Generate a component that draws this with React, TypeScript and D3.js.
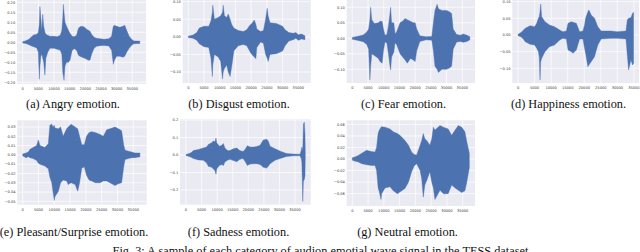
import React from 'react';
import * as d3 from 'd3';

// ---------- shared ticks & text ----------
const xTicks = [0, 5000, 10000, 15000, 20000, 25000, 30000, 35000];
const captions = [
  '(a) Angry emotion.',
  '(b) Disgust emotion.',
  '(c) Fear emotion.',
  '(d) Happiness emotion.',
  '(e) Pleasant/Surprise emotion.',
  '(f) Sadness emotion.',
  '(g) Neutral emotion.',
];
const figCaption = 'Fig. 3: A sample of each category of audion emotial wave signal in the TESS dataset.';

// ---------- (a) Angry ----------
const angryYTicks = [0.2, 0.15, 0.1, 0.05, 0, -0.05, -0.1, -0.15, -0.2];
const angryT = [0, 1000, 2000, 3000, 3500, 4500, 5000, 5300, 5500, 5800, 6100, 6400, 6700, 7100, 7400, 8000, 8700, 10000, 11000, 12000, 12500, 12800, 13000, 13200, 13500, 14000, 14600, 15100, 15800, 16500, 17200, 17800, 18300, 19000, 19800, 20400, 21000, 21500, 22000, 22800, 23600, 24700, 26000, 27500, 28400, 28700, 28950, 29300, 30000, 31000, 32000, 32600, 33200, 34000, 34800, 35500, 37400];
const angryHi = [0.003, 0.008, 0.015, 0.03, 0.037, 0.04, 0.05, 0.09, 0.178, 0.12, 0.06, 0.14, 0.08, 0.05, 0.04, 0.035, 0.03, 0.03, 0.028, 0.035, 0.06, 0.12, 0.19, 0.15, 0.1, 0.08, 0.06, 0.045, 0.03, 0.028, 0.035, 0.07, 0.078, 0.08, 0.075, 0.065, 0.06, 0.055, 0.04, 0.025, 0.02, 0.018, 0.015, 0.018, 0.03, 0.06, 0.08, 0.085, 0.08, 0.075, 0.08, 0.085, 0.06, 0.03, 0.015, 0.007, 0.006];
const angryLo = [-0.003, -0.006, -0.012, -0.02, -0.022, -0.028, -0.05, -0.185, -0.12, -0.07, -0.06, -0.08, -0.1, -0.164, -0.08, -0.05, -0.03, -0.03, -0.035, -0.04, -0.06, -0.15, -0.17, -0.19, -0.12, -0.1, -0.1, -0.09, -0.04, -0.032, -0.04, -0.065, -0.07, -0.075, -0.08, -0.085, -0.09, -0.088, -0.06, -0.03, -0.02, -0.017, -0.016, -0.018, -0.04, -0.08, -0.11, -0.09, -0.07, -0.07, -0.075, -0.07, -0.05, -0.03, -0.015, -0.007, -0.006];

// ---------- (b) Disgust ----------
const disgustYTicks = [0.1, 0.05, 0, -0.05, -0.1];
const disgustT = [0, 1500, 2700, 3500, 5000, 6500, 7200, 7650, 7800, 8300, 9500, 10300, 10900, 11100, 11500, 12200, 12700, 13300, 13800, 14500, 15900, 17500, 18600, 19500, 20200, 21000, 21500, 21800, 23000, 23900, 24600, 25100, 25400, 26000, 28000, 30000, 30800, 32000, 33400, 34200, 35000, 36000, 37100];
const disgustHi = [0.002, 0.005, 0.012, 0.025, 0.03, 0.03, 0.045, 0.07, 0.09, 0.05, 0.055, 0.06, 0.07, 0.09, 0.06, 0.055, 0.065, 0.05, 0.035, 0.025, 0.018, 0.015, 0.02, 0.032, 0.038, 0.048, 0.035, 0.022, 0.015, 0.018, 0.05, 0.081, 0.06, 0.04, 0.038, 0.03, 0.02, 0.012, 0.01, 0.012, 0.006, 0.008, 0.003];
const disgustLo = [-0.002, -0.004, -0.01, -0.02, -0.028, -0.03, -0.06, -0.113, -0.08, -0.05, -0.057, -0.07, -0.12, -0.1, -0.09, -0.08, -0.1, -0.113, -0.085, -0.04, -0.025, -0.022, -0.025, -0.04, -0.05, -0.057, -0.062, -0.03, -0.015, -0.018, -0.05, -0.06, -0.07, -0.05, -0.048, -0.04, -0.025, -0.012, -0.008, -0.004, -0.01, -0.006, -0.008];

// ---------- (c) Fear ----------
const fearYTicks = [0.1, 0.05, 0, -0.05, -0.1];
const fearT = [0, 1500, 3500, 4600, 5200, 5600, 5850, 6200, 7000, 8300, 8800, 9500, 9900, 10400, 11000, 11500, 12000, 12200, 12500, 13200, 13600, 14100, 15200, 16000, 16800, 17500, 18500, 19400, 20000, 20500, 21500, 23500, 25300, 25800, 26300, 27000, 27400, 28500, 30000, 31000, 31600, 32100, 33200, 34500, 35300, 36500, 37400];
const fearHi = [0.003, 0.006, 0.011, 0.02, 0.03, 0.06, 0.1, 0.06, 0.048, 0.05, 0.055, 0.054, 0.03, 0.01, 0.012, 0.04, 0.08, 0.1, 0.05, 0.05, 0.015, 0.02, 0.05, 0.055, 0.064, 0.06, 0.055, 0.05, 0.05, 0.03, 0.008, 0.005, 0.006, 0.05, 0.09, 0.11, 0.095, 0.09, 0.09, 0.085, 0.08, 0.03, 0.012, 0.01, 0.014, 0.01, 0.005];
const fearLo = [-0.003, -0.006, -0.011, -0.02, -0.035, -0.134, -0.09, -0.05, -0.055, -0.065, -0.075, -0.08, -0.04, -0.012, -0.015, -0.05, -0.09, -0.102, -0.06, -0.045, -0.015, -0.02, -0.05, -0.06, -0.07, -0.08, -0.065, -0.07, -0.075, -0.04, -0.01, -0.005, -0.006, -0.04, -0.09, -0.1, -0.11, -0.1, -0.1, -0.095, -0.09, -0.035, -0.012, -0.01, -0.013, -0.01, -0.005];

// ---------- (d) Happiness ----------
const happyYTicks = [0.1, 0.05, 0, -0.05, -0.1];
const happyT = [0, 1000, 1650, 2150, 3650, 5000, 5640, 6140, 6400, 6640, 6840, 7140, 8130, 9500, 11000, 12600, 13500, 14600, 15100, 16100, 16600, 17600, 18600, 19600, 20100, 20400, 21100, 21400, 22100, 23100, 24100, 25100, 28100, 30000, 32600, 33000, 33400, 34100, 34600, 34900];
const happyHi = [0.002, 0.008, 0.015, 0.02, 0.028, 0.025, 0.035, 0.05, 0.055, 0.07, 0.093, 0.055, 0.04, 0.03, 0.025, 0.015, 0.01, 0.012, 0.035, 0.04, 0.038, 0.035, 0.01, 0.012, 0.03, 0.05, 0.07, 0.075, 0.06, 0.05, 0.025, 0.012, 0.012, 0.01, 0.012, 0.045, 0.05, 0.052, 0.065, 0.068];
const happyLo = [-0.002, -0.006, -0.013, -0.02, -0.028, -0.03, -0.04, -0.05, -0.065, -0.135, -0.08, -0.07, -0.05, -0.035, -0.03, -0.015, -0.01, -0.012, -0.045, -0.05, -0.055, -0.045, -0.012, -0.012, -0.04, -0.055, -0.095, -0.09, -0.08, -0.065, -0.03, -0.012, -0.01, -0.01, -0.012, -0.06, -0.105, -0.075, -0.09, -0.085];

// ---------- (e) Pleasant/Surprise ----------
const pleasantYTicks = [0.03, 0.02, 0.01, 0, -0.01, -0.02, -0.03, -0.04, -0.05];
const pleasantT = [0, 1000, 1780, 2300, 3300, 4400, 4950, 5470, 7000, 8100, 8600, 9200, 9600, 10000, 10200, 11300, 12000, 12800, 13900, 14400, 15300, 16600, 17400, 18000, 18700, 19500, 20200, 21000, 21800, 23000, 24500, 25500, 26600, 27600, 29200, 30300, 31300, 32000, 32400, 33500, 34500, 35500, 37100];
const pleasantHi = [0.001, 0.002, 0.003, 0.006, 0.008, 0.01, 0.016, 0.01, 0.008, 0.012, 0.032, 0.033, 0.03, 0.032, 0.029, 0.028, 0.03, 0.02, 0.028, 0.03, 0.033, 0.03, 0.028, 0.02, 0.011, 0.011, 0.02, 0.024, 0.025, 0.024, 0.022, 0.02, 0.027, 0.028, 0.03, 0.028, 0.026, 0.01, 0.005, 0.004, 0.003, 0.002, 0.002];
const pleasantLo = [-0.001, -0.003, -0.002, -0.003, -0.004, -0.006, -0.009, -0.01, -0.012, -0.015, -0.024, -0.03, -0.04, -0.049, -0.045, -0.039, -0.03, -0.027, -0.028, -0.032, -0.03, -0.032, -0.039, -0.03, -0.014, -0.013, -0.022, -0.027, -0.028, -0.03, -0.03, -0.028, -0.028, -0.03, -0.033, -0.031, -0.03, -0.012, -0.005, -0.004, -0.003, -0.003, -0.002];

// ---------- (f) Sadness ----------
const sadYTicks = [0.2, 0.1, 0, -0.1, -0.2];
const sadT = [0, 1000, 1820, 2350, 4000, 5560, 6600, 7170, 8240, 8780, 9300, 9630, 9850, 10700, 11500, 12000, 12500, 13300, 14100, 15200, 16300, 17300, 18300, 18900, 19700, 20600, 21700, 22700, 23800, 24800, 25900, 26400, 27000, 28600, 30500, 32300, 34500, 36600, 37000, 37200, 37500, 37700, 38000, 38200, 38300];
const sadHi = [0.003, 0.008, 0.015, 0.025, 0.032, 0.04, 0.045, 0.06, 0.07, 0.08, 0.075, 0.097, 0.07, 0.05, 0.055, 0.065, 0.04, 0.025, 0.025, 0.035, 0.04, 0.025, 0.02, 0.03, 0.053, 0.045, 0.045, 0.048, 0.055, 0.085, 0.09, 0.08, 0.05, 0.035, 0.02, 0.008, 0.005, 0.004, 0.025, 0.045, 0.03, 0.177, 0.187, 0.12, 0.02];
const sadLo = [-0.003, -0.008, -0.014, -0.02, -0.028, -0.03, -0.045, -0.065, -0.07, -0.08, -0.09, -0.11, -0.08, -0.06, -0.055, -0.06, -0.04, -0.03, -0.025, -0.032, -0.038, -0.025, -0.02, -0.035, -0.06, -0.052, -0.05, -0.05, -0.055, -0.07, -0.075, -0.065, -0.05, -0.03, -0.018, -0.008, -0.005, -0.004, -0.02, -0.04, -0.265, -0.15, -0.14, -0.12, -0.02];

// ---------- (g) Neutral ----------
const neutralYTicks = [0.06, 0.04, 0.02, 0, -0.02, -0.04, -0.06];
const neutralT = [0, 1000, 1900, 3000, 4550, 6000, 7200, 7700, 8200, 8570, 9100, 9300, 10400, 11950, 13000, 14300, 15100, 16700, 17800, 18800, 19600, 20400, 21500, 22000, 22500, 23000, 23600, 24600, 25200, 25700, 26200, 27800, 28900, 30400, 31500, 32600, 33600, 34700, 35700, 36300, 37100];
const neutralHi = [0.002, 0.004, 0.0063, 0.01, 0.015, 0.013, 0.012, 0.02, 0.045, 0.05, 0.055, 0.056, 0.055, 0.052, 0.047, 0.044, 0.041, 0.032, 0.024, 0.012, 0.008, 0.007, 0.024, 0.032, 0.044, 0.035, 0.032, 0.024, 0.035, 0.055, 0.05, 0.058, 0.055, 0.052, 0.041, 0.05, 0.058, 0.055, 0.047, 0.03, 0.01];
const neutralLo = [-0.002, -0.004, -0.005, -0.008, -0.01, -0.011, -0.011, -0.02, -0.05, -0.057, -0.07, -0.06, -0.05, -0.048, -0.055, -0.06, -0.057, -0.051, -0.04, -0.022, -0.012, -0.008, -0.02, -0.034, -0.066, -0.045, -0.037, -0.022, -0.04, -0.05, -0.07, -0.054, -0.06, -0.06, -0.045, -0.05, -0.054, -0.058, -0.055, -0.04, -0.015];

// ---------- layout (positions only) ----------
type Panel = {
  t: number[]; hi: number[]; lo: number[]; yTicks: number[]; fmt: string;
  box: [number, number, number, number]; xDom: [number, number]; yDom: [number, number];
  caption: string; capX: number; capY: number;
};

const panels: Panel[] = [
  { t: angryT, hi: angryHi, lo: angryLo, yTicks: angryYTicks, fmt: '.2f', box: [17, 0, 146, 84], xDom: [-1820, 39380], yDom: [-0.2085, 0.2115], caption: captions[0], capX: 73, capY: 108 },
  { t: disgustT, hi: disgustHi, lo: disgustLo, yTicks: disgustYTicks, fmt: '.2f', box: [182.7, 0, 310.7, 83], xDom: [-1780, 38940], yDom: [-0.1313, 0.1048], caption: captions[1], capX: 239, capY: 108 },
  { t: fearT, hi: fearHi, lo: fearLo, yTicks: fearYTicks, fmt: '.2f', box: [346.7, 0, 475, 83], xDom: [-1780, 39040], yDom: [-0.144, 0.1235], caption: captions[2], capX: 403.5, capY: 108 },
  { t: happyT, hi: happyHi, lo: happyLo, yTicks: happyYTicks, fmt: '.2f', box: [512.3, 0, 639, 83], xDom: [-1740, 36540], yDom: [-0.144, 0.105], caption: captions[3], capX: 568.5, capY: 108 },
  { t: pleasantT, hi: pleasantHi, lo: pleasantLo, yTicks: pleasantYTicks, fmt: '.2f', box: [17.3, 120.3, 146.7, 204.7], xDom: [-1710, 39240], yDom: [-0.0536, 0.0372], caption: captions[4], capX: 74, capY: 236 },
  { t: sadT, hi: sadHi, lo: sadLo, yTicks: sadYTicks, fmt: '.1f', box: [180, 119, 310.7, 204.7], xDom: [-1930, 40040], yDom: [-0.284, 0.2057], caption: captions[5], capX: 238.5, capY: 236 },
  { t: neutralT, hi: neutralHi, lo: neutralLo, yTicks: neutralYTicks, fmt: '.2f', box: [346.7, 120.3, 475, 206], xDom: [-1775, 38900], yDom: [-0.0813, 0.067], caption: captions[6], capX: 407.5, capY: 236 },
];

const BG = '#EAEAF2';
const BLUE = '#4C72B0';
const TICK_FONT = "'DejaVu Sans', sans-serif";
const SERIF = "'Liberation Serif', 'Times New Roman', serif";

function WavePanel({ p }: { p: Panel }) {
  const [x0, y0, x1, y1] = p.box;
  const x = d3.scaleLinear().domain(p.xDom).range([x0, x1]);
  const y = d3.scaleLinear().domain(p.yDom).range([y1, y0]);
  const idx = d3.range(p.t.length);
  const area = d3.area<number>()
    .x((i) => x(p.t[i]))
    .y0((i) => y(p.lo[i]))
    .y1((i) => y(p.hi[i]))
    .curve(d3.curveLinear);
  const fmt = d3.format(p.fmt);
  const clipId = `clip-${Math.round(x0)}-${Math.round(y0)}`;
  return (
    <g>
      <defs>
        <clipPath id={clipId}>
          <rect x={x0} y={y0} width={x1 - x0} height={y1 - y0} />
        </clipPath>
      </defs>
      <rect x={x0} y={y0} width={x1 - x0} height={y1 - y0} fill={BG} />
      <g clipPath={`url(#${clipId})`}>
        {xTicks.map((v) => (
          <line key={'gx' + v} x1={x(v)} x2={x(v)} y1={y0} y2={y1} stroke="#fff" strokeWidth={0.7} />
        ))}
        {p.yTicks.map((v) => (
          <line key={'gy' + v} x1={x0} x2={x1} y1={y(v)} y2={y(v)} stroke="#fff" strokeWidth={0.7} />
        ))}
        <path d={area(idx) || ''} fill={BLUE} stroke={BLUE} strokeWidth={0.4} />
      </g>
      {xTicks.map((v) => (
        <text key={'tx' + v} x={x(v)} y={y1 + 6.3} textAnchor="middle" fontSize={3.6} fontFamily={TICK_FONT} fill="#3a3a3a">
          {d3.format('d')(v)}
        </text>
      ))}
      {p.yTicks.map((v) => (
        <text key={'ty' + v} x={x0 - 1.8} y={y(v) + 1.3} textAnchor="end" fontSize={3.6} fontFamily={TICK_FONT} fill="#3a3a3a">
          {fmt(v)}
        </text>
      ))}
      <text x={p.capX} y={p.capY} textAnchor="middle" fontSize={12.3} fontFamily={SERIF} fill="#111">
        {p.caption}
      </text>
    </g>
  );
}

export default function App() {
  return (
    <svg width={640} height={252} viewBox="0 0 640 252" style={{ position: 'absolute', left: 0, top: 0, background: '#fff' }}>
      <rect x={0} y={0} width={640} height={252} fill="#fff" />
      {panels.map((p, i) => (
        <WavePanel key={i} p={p} />
      ))}
      <text x={322} y={255} textAnchor="middle" fontSize={12.3} fontFamily={SERIF} fill="#111">
        {figCaption}
      </text>
    </svg>
  );
}
